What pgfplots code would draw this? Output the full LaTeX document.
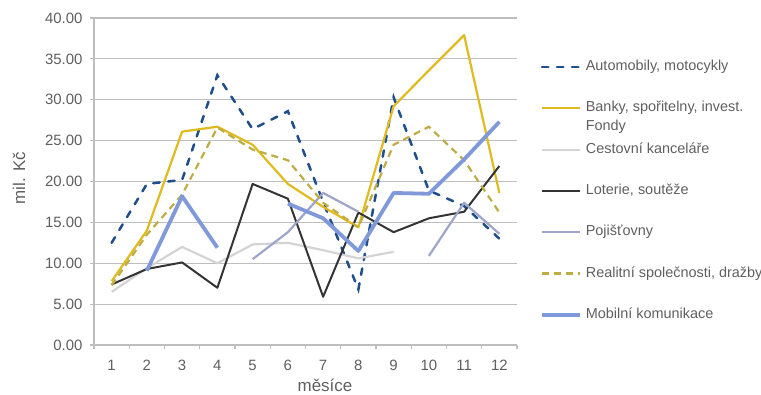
\documentclass[border=0pt]{standalone}
\usepackage{fontspec}
\setmainfont{Liberation Sans}
\usepackage{pgfplots}
\pgfplotsset{compat=1.18}
\usepackage{pgfplotstable}

\definecolor{autoblue}{RGB}{31,78,140}
\definecolor{bankgold}{RGB}{224,186,30}
\definecolor{cestgray}{RGB}{212,212,212}
\definecolor{lotblack}{RGB}{52,52,52}
\definecolor{pojgray}{RGB}{158,165,200}
\definecolor{realolive}{RGB}{190,172,70}
\definecolor{mobblue}{RGB}{128,153,218}
\definecolor{gridgray}{RGB}{190,190,190}
\definecolor{textgray}{RGB}{95,95,95}

% monthly amounts (mil. Kc), nan = no value for that month
\pgfplotstableread{
m  auto  banky  cest  lot   poj   real  mob
1  12.5  7.8    6.5   7.4   nan   7.3   nan
2  19.7  14.0   9.4   9.3   nan   13.5  9.1
3  20.2  26.1   12.0  10.1  nan   18.4  18.2
4  33.0  26.7   10.0  7.0   nan   26.6  11.9
5  26.4  24.5   12.3  19.7  10.5  23.9  nan
6  28.6  19.7   12.5  17.9  13.8  22.6  17.3
7  17.5  16.9   11.6  5.9   18.6  17.4  15.5
8  6.8   14.4   10.6  16.2  16.3  14.4  11.5
9  30.3  29.2   11.4  13.8  nan   24.5  18.6
10 18.9  33.6   nan   15.5  10.9  26.7  18.5
11 17.0  37.9   nan   16.3  17.4  22.6  22.7
12 13.0  18.6   nan   21.9  13.6  16.2  27.3
}\datatable

\begin{document}
\begin{tikzpicture}[x=1bp,y=1bp]
\path[use as bounding box] (0,0) rectangle (761,394);
\begin{axis}[
  at={(94bp,49bp)}, anchor=south west,
  scale only axis, width=423bp, height=327bp,
  xmin=0.5, xmax=12.5, ymin=0, ymax=40,
  xtick={1,...,12},
  minor xtick={0.5,1.5,...,12.5},
  ytick={0,5,...,40},
  tick align=outside,
  major tick length=4bp, minor tick length=4bp,
  major x tick style={draw=none},
  minor x tick style={draw=gridgray, line width=1.2bp},
  major y tick style={draw=gridgray, line width=1.2bp},
  axis x line*=bottom, axis y line*=left,
  axis line style={draw=gridgray, line width=1.5bp, -},
  ymajorgrids, xminorgrids=false,
  grid style={draw=gridgray, line width=1.2bp},
  /pgf/number format/assume math mode=true,
  yticklabel style={/pgf/number format/fixed, /pgf/number format/fixed zerofill,
    /pgf/number format/precision=2, font=\fontsize{15}{18}\selectfont,
    text=textgray, xshift=-4bp},
  xticklabel style={font=\fontsize{15}{18}\selectfont, text=textgray, yshift=-8bp},
  xlabel={měsíce}, ylabel={mil. Kč},
  label style={font=\fontsize{17}{20}\selectfont, text=textgray},
  xlabel style={at={(axis description cs:0.546,0)}, anchor=center, yshift=-40bp},
  ylabel style={at={(axis description cs:-0.177,0.51)}, anchor=center},
  unbounded coords=jump,
  legend cell align=left,
  legend image code/.code={\draw[#1] (0bp,0bp) -- (38bp,0bp);},
  legend style={at={(axis description cs:1.0544,0.870)}, anchor=north west,
    draw=none, fill=none, inner sep=0pt, outer sep=0pt,
    row sep=28.3bp, column sep=4bp,
    nodes={inner sep=0pt, text height=10bp, text depth=3bp,
      font=\fontsize{14.5}{19}\selectfont, text=textgray}},
]
\addplot[autoblue, line width=2.5bp, line cap=round, dash pattern=on 6.5bp off 8.5bp]
  table[x=m, y=auto] {\datatable};
\addlegendentry{Automobily, motocykly}
\addplot[bankgold, line width=2.2bp, line join=round]
  table[x=m, y=banky] {\datatable};
\addlegendentry{{\begin{tabular}[t]{@{}l@{}}Banky, spořitelny, invest.\\Fondy\end{tabular}}}
\addplot[cestgray, line width=2.2bp, line join=round]
  table[x=m, y=cest] {\datatable};
\addlegendentry{Cestovní kanceláře}
\addplot[lotblack, line width=2bp, line join=round]
  table[x=m, y=lot] {\datatable};
\addlegendentry{Loterie, soutěže}
\addplot[pojgray, line width=2.2bp, line join=round]
  table[x=m, y=poj] {\datatable};
\addlegendentry{Pojišťovny}
\addplot[realolive, line width=2.2bp, dash pattern=on 7bp off 5bp]
  table[x=m, y=real] {\datatable};
\addlegendentry{Realitní společnosti, dražby}
\addplot[mobblue, line width=3.8bp, line join=round]
  table[x=m, y=mob] {\datatable};
\addlegendentry{Mobilní komunikace}
\end{axis}
\end{tikzpicture}
\end{document}
